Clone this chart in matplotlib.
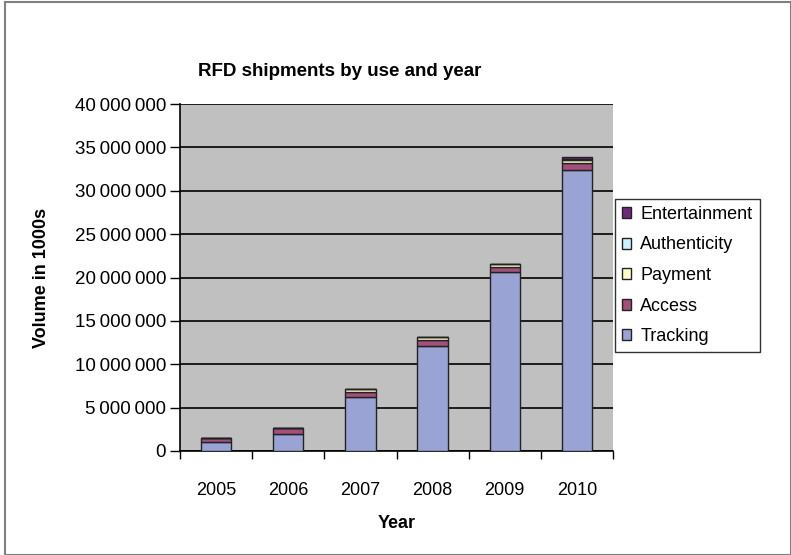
import matplotlib.pyplot as plt
from matplotlib.patches import Rectangle
from matplotlib.ticker import FuncFormatter
import numpy as np

plt.rcParams['font.family'] = ['Liberation Sans', 'DejaVu Sans']

years = ["2005", "2006", "2007", "2008", "2009", "2010"]
tracking = [1000000, 2000000, 6200000, 12100000, 20600000, 32400000]
access = [500000, 600000, 650000, 700000, 600000, 850000]
payment = [50000, 80000, 300000, 300000, 350000, 300000]
authenticity = [0, 0, 20000, 20000, 50000, 100000]
entertainment = [0, 0, 0, 0, 0, 200000]

series = [
    ("Tracking", tracking, "#9AA4D4"),
    ("Access", access, "#A0507A"),
    ("Payment", payment, "#FFFFCC"),
    ("Authenticity", authenticity, "#CCF2FF"),
    ("Entertainment", entertainment, "#6E2A78"),
]

fig = plt.figure(figsize=(7.91, 5.55), dpi=100)
fig.patches.append(Rectangle((0.006, 0.0), 0.994, 0.996, transform=fig.transFigure,
                             fill=False, edgecolor="#808080", linewidth=1.5))

ax = fig.add_axes([0.2276, 0.1874, 0.5474, 0.6252])
ax.set_facecolor("#C0C0C0")

x = np.arange(len(years))
bottom = np.zeros(len(years))
handles = []
for name, vals, color in series:
    b = ax.bar(x, vals, width=0.42, bottom=bottom, color=color,
               edgecolor="#222222", linewidth=1.0, label=name, zorder=3)
    handles.append(b)
    bottom += np.array(vals)

ax.set_ylim(0, 40000000)
ax.set_xlim(-0.5, len(years) - 0.5)
ax.set_yticks(np.arange(0, 40000001, 5000000))
ax.yaxis.set_major_formatter(FuncFormatter(lambda v, p: f"{int(v):,}".replace(",", "\u2009")))
ax.grid(axis="y", color="black", linewidth=1.2, zorder=1)
ax.set_axisbelow(True)

ax.set_xticks(x)
ax.set_xticklabels(years)
ax.set_xticks(np.arange(-0.5, len(years), 1.0), minor=True)
ax.tick_params(axis="x", which="major", length=0, pad=22, labelsize=13)
ax.tick_params(axis="x", which="minor", length=6, width=1, color="black")
ax.tick_params(axis="y", length=7, width=1, labelsize=13.5, pad=3)

for s in ["top", "right"]:
    ax.spines[s].set_visible(False)
ax.spines["left"].set_color("black")
ax.spines["bottom"].set_color("black")
ax.spines["left"].set_linewidth(1.2)
ax.spines["bottom"].set_linewidth(1.2)

ax.set_xlabel("Year", fontsize=13, fontweight="bold", labelpad=12)
ax.set_ylabel("Volume in 1000s", fontsize=13, fontweight="bold", labelpad=18)
fig.text(0.43, 0.872, "RFD shipments by use and year", fontsize=13.5,
         fontweight="bold", ha="center", va="center")

leg = ax.legend(handles[::-1], [s[0] for s in series][::-1],
                loc="upper left", bbox_to_anchor=(1.005, 0.727),
                fontsize=13, frameon=True, fancybox=False,
                edgecolor="black", handlelength=0.5, handleheight=0.55,
                handletextpad=0.5, labelspacing=0.75, borderpad=0.4,
                borderaxespad=0.0)
leg.get_frame().set_linewidth(1.0)

fig.savefig("out.png", dpi=100)
